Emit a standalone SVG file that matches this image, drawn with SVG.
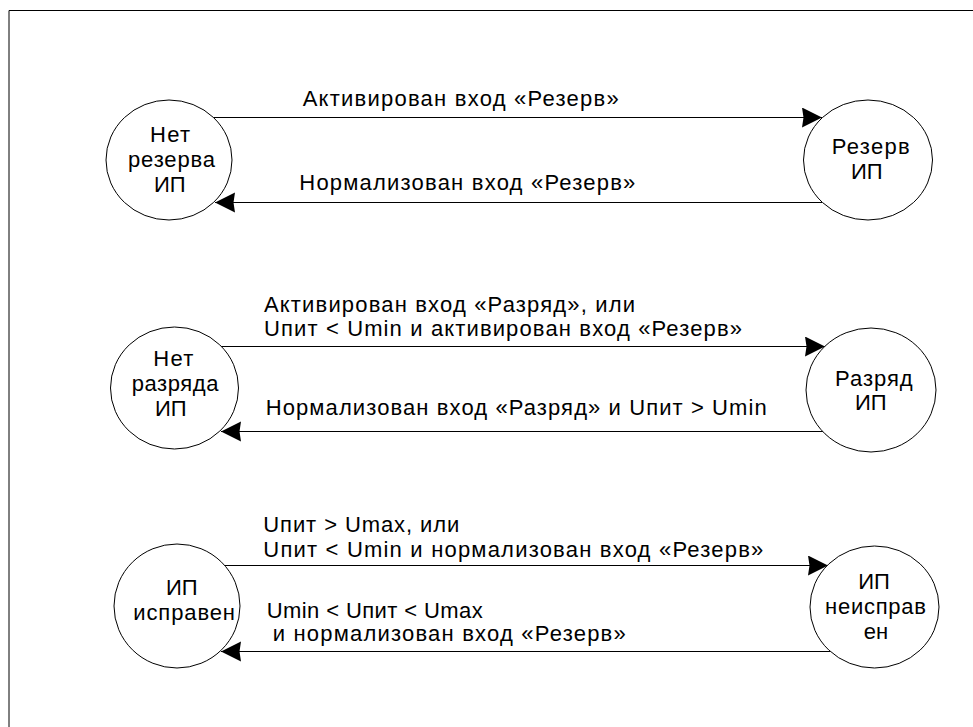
<svg xmlns="http://www.w3.org/2000/svg" width="973" height="727" viewBox="0 0 973 727">
<style>
text{font-family:"Liberation Sans",Arial,sans-serif;font-size:22px;fill:#000}
.st{fill:#fff;stroke:#000;stroke-width:1}
.cn{fill:none;stroke:#000;stroke-width:1;marker-end:url(#arr)}
</style>
<defs>
<marker id="arr" markerUnits="userSpaceOnUse" markerWidth="22" markerHeight="22" refX="20" refY="10" orient="auto">
<path d="M0,0 L20,10 L0,20 L1.5,10 Z" fill="#000"/>
</marker>
</defs>
<rect x="0" y="0" width="973" height="727" fill="#fff"/>
<path d="M9,727 V10.5 H973" fill="none" stroke="#000" stroke-width="1"/>
<g id="connectors">
<path class="cn" d="M213,117.5 H822"/>
<path class="cn" d="M822,202.5 H215"/>
<path class="cn" d="M220,346.5 H825"/>
<path class="cn" d="M823,431.5 H221"/>
<path class="cn" d="M225,565.5 H828"/>
<path class="cn" d="M830,651.5 H221"/>
</g>
<g id="labels">
<text x="302.7" y="106" textLength="316" lengthAdjust="spacing">Активирован вход «Резерв»</text>
<text x="299.3" y="190" textLength="336" lengthAdjust="spacing">Нормализован вход «Резерв»</text>
<text x="264" y="311.7" textLength="371" lengthAdjust="spacing">Активирован вход «Разряд», или</text>
<text x="264" y="335.7" textLength="478" lengthAdjust="spacing">Uпит &lt; Umin и активирован вход «Резерв»</text>
<text x="265.7" y="415" textLength="501" lengthAdjust="spacing">Нормализован вход «Разряд» и Uпит &gt; Umin</text>
<text x="263.3" y="531.7" textLength="196" lengthAdjust="spacing">Uпит &gt; Umax, или</text>
<text x="263.3" y="557.3" textLength="500" lengthAdjust="spacing">Uпит &lt; Umin и нормализован вход «Резерв»</text>
<text x="266.7" y="618" textLength="216" lengthAdjust="spacing">Umin &lt; Uпит &lt; Umax</text>
<text x="272.7" y="641" textLength="353" lengthAdjust="spacing">и нормализован вход «Резерв»</text>
</g>
<g id="node-net-rezerva">
<ellipse class="st" cx="169" cy="160" rx="63" ry="60"/>
<text x="150" y="142" textLength="40" lengthAdjust="spacing">Нет</text>
<text x="128" y="167" textLength="87" lengthAdjust="spacing">резерва</text>
<text x="154" y="192">ИП</text>
</g>
<g id="node-rezerv">
<ellipse class="st" cx="868" cy="160" rx="64.5" ry="60"/>
<text x="831.7" y="154" textLength="78" lengthAdjust="spacing">Резерв</text>
<text x="851" y="179">ИП</text>
</g>
<g id="node-net-razryada">
<ellipse class="st" cx="174.5" cy="388" rx="64" ry="61"/>
<text x="153.3" y="366" textLength="40" lengthAdjust="spacing">Нет</text>
<text x="131.7" y="391" textLength="86.7" lengthAdjust="spacing">разряда</text>
<text x="155" y="416">ИП</text>
</g>
<g id="node-razryad">
<ellipse class="st" cx="871" cy="390" rx="65" ry="62"/>
<text x="835" y="386" textLength="77.7" lengthAdjust="spacing">Разряд</text>
<text x="855" y="410">ИП</text>
</g>
<g id="node-ip-ispraven">
<ellipse class="st" cx="177" cy="606" rx="63" ry="62"/>
<text x="166" y="595">ИП</text>
<text x="133.3" y="620" textLength="101.7" lengthAdjust="spacing">исправен</text>
</g>
<g id="node-ip-neispraven">
<ellipse class="st" cx="874.5" cy="607" rx="64.5" ry="61"/>
<text x="858.3" y="589">ИП</text>
<text x="825" y="614" textLength="101" lengthAdjust="spacing">неисправ</text>
<text x="876" y="639" text-anchor="middle">ен</text>
</g>
</svg>
